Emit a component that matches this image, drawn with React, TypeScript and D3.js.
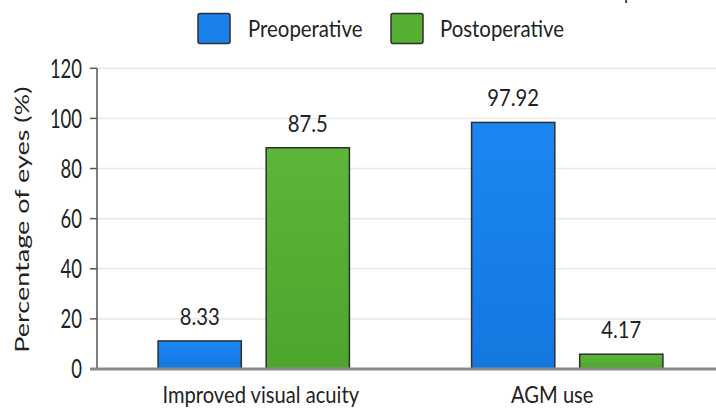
import React from "react";
import * as d3 from "d3";

const categories = ["Improved visual acuity", "AGM use"];
const seriesNames = ["Preoperative", "Postoperative"];
// bar heights as drawn in the picture (% of eyes)
const preoperativeBars = [11.2, 98.4];
const postoperativeBars = [88.3, 5.9];
// value labels printed above bars
const preoperativeLabels = ["8.33", "97.92"];
const postoperativeLabels = ["87.5", "4.17"];
const yTicks = [0, 20, 40, 60, 80, 100, 120];
const yAxisTitle = "Percentage of eyes (%)";

const W = 716;
const H = 412;
const FONT = "Lato, 'Open Sans', sans-serif";

type TProps = {
  x: number;
  y: number;
  sx: number;
  size: number;
  anchor?: "start" | "middle" | "end";
  dy?: string;
  rotate?: number;
  children: React.ReactNode;
};

function T({ x, y, sx, size, anchor = "start", dy, rotate, children }: TProps) {
  return (
    <g transform={`translate(${x},${y}) scale(${sx},1)${rotate ? ` rotate(${rotate})` : ""}`}>
      <text textAnchor={anchor} dy={dy} fontFamily={FONT} fontSize={size} fill="#222">
        {children}
      </text>
    </g>
  );
}

export default function App() {
  const x0 = d3.scaleBand<string>().domain(categories).range([97, 724]).padding(0);
  const x1 = d3
    .scaleBand<string>()
    .domain(seriesNames)
    .range([0, x0.bandwidth()])
    .paddingInner(0.23)
    .paddingOuter(0.565);
  const y = d3.scaleLinear().domain([0, 120]).range([369, 68.3]);

  const series = [
    { name: seriesNames[0], bars: preoperativeBars, labels: preoperativeLabels, fill: "url(#gBlue)", swatch: "#1a80ec" },
    { name: seriesNames[1], bars: postoperativeBars, labels: postoperativeLabels, fill: "url(#gGreen)", swatch: "#56ae33" },
  ];

  const legendSwatchX = [198, 391];
  const legendTextX = [248, 440];
  const categoryLabelDx = [7, -15];

  return (
    <div style={{ position: "fixed", left: 0, top: 0 }}>
      <svg width={W} height={H} style={{ display: "block", background: "#fff" }}>
        <defs>
          <linearGradient id="gBlue" x1="0" y1="0" x2="0" y2="1">
            <stop offset="0" stopColor="#1b86f2" />
            <stop offset="1" stopColor="#1478e0" />
          </linearGradient>
          <linearGradient id="gGreen" x1="0" y1="0" x2="0" y2="1">
            <stop offset="0" stopColor="#5db53a" />
            <stop offset="1" stopColor="#4ea52e" />
          </linearGradient>
        </defs>

        {/* cropped text fragment at top right */}
        <T x={624} y={-1} sx={0.8} size={22}>p</T>

        {/* gridlines */}
        {yTicks.filter((t) => t > 0).map((t) => (
          <line key={"g" + t} x1={97} x2={W} y1={y(t)} y2={y(t)} stroke="#e9e9e9" strokeWidth={1.5} />
        ))}

        {/* bars */}
        {categories.map((c, i) => (
          <g key={c} transform={`translate(${x0(c)},0)`}>
            {series.map((s) => (
              <g key={s.name}>
                <rect
                  x={x1(s.name)}
                  y={y(s.bars[i])}
                  width={x1.bandwidth()}
                  height={y(0) - y(s.bars[i])}
                  fill={s.fill}
                  stroke="#2f2f2f"
                  strokeWidth={1.5}
                />
                <T
                  x={(x1(s.name) as number) + x1.bandwidth() / 2}
                  y={y(s.bars[i]) - 16}
                  anchor="middle"
                  size={23}
                  sx={0.88}
                >
                  {s.labels[i]}
                </T>
              </g>
            ))}
            <T x={x0.bandwidth() / 2 + categoryLabelDx[i]} y={403} anchor="middle" size={24} sx={0.84}>
              {c}
            </T>
          </g>
        ))}

        {/* y axis */}
        <line x1={97} x2={97} y1={y(120)} y2={y(0)} stroke="#555" strokeWidth={1.5} />
        {yTicks.map((t) => (
          <g key={"t" + t}>
            <line x1={90} x2={97} y1={y(t)} y2={y(t)} stroke="#555" strokeWidth={1.5} />
            <T x={82} y={y(t)} dy="0.36em" anchor="end" size={26} sx={0.71}>
              {t}
            </T>
          </g>
        ))}
        {/* baseline */}
        <line x1={90} x2={W} y1={y(0)} y2={y(0)} stroke="#8a8a8a" strokeWidth={3} />

        <T x={29} y={(y(0) + y(120)) / 2 + 1} anchor="middle" size={27} sx={0.72} rotate={-90}>
          {yAxisTitle}
        </T>

        {/* legend */}
        {series.map((s, i) => (
          <g key={"l" + s.name}>
            <rect x={legendSwatchX[i]} y={13.5} width={32} height={30} rx={2} fill={s.swatch} stroke="#2f2f2f" strokeWidth={1.5} />
            <T x={legendTextX[i]} y={37} size={24} sx={0.85}>
              {s.name}
            </T>
          </g>
        ))}
      </svg>
    </div>
  );
}
